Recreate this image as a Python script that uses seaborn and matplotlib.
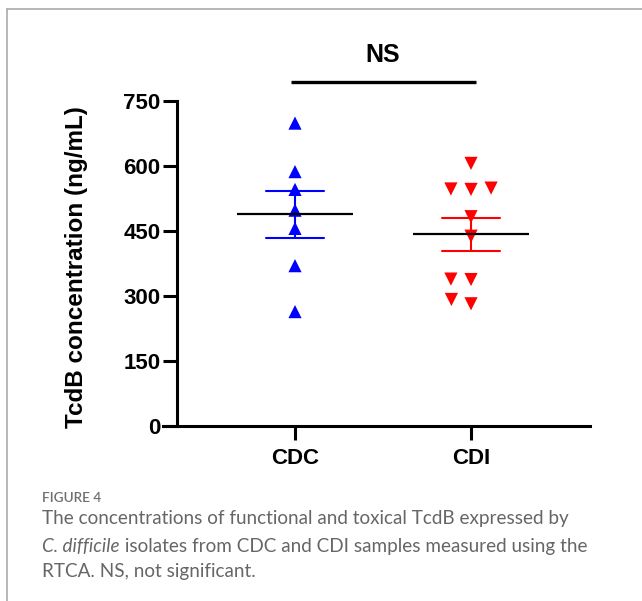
import pandas as pd
import matplotlib.pyplot as plt
from matplotlib.lines import Line2D
import seaborn as sns

# Data
groups = ['CDC', 'CDI']
cdc_values = [699, 587, 546, 498, 456, 370, 264]
cdi_values = [606, 547, 549, 546, 483, 438, 338, 339, 282, 292]
y_ticks = [0, 150, 300, 450, 600, 750]
group_colors = {'CDC': '#0000ff', 'CDI': '#ff0000'}
group_markers = {'CDC': '^', 'CDI': 'v'}
# invisible edge only used to widen the swarm spacing
group_spacing = {'CDC': 0, 'CDI': 4.3}

df = pd.DataFrame({
    'group': ['CDC'] * len(cdc_values) + ['CDI'] * len(cdi_values),
    'value': cdc_values + cdi_values,
})

sns.set_theme(style='ticks')
plt.rcParams['font.family'] = ['Liberation Sans', 'DejaVu Sans']

fig = plt.figure(figsize=(6.42, 6.01), dpi=100)
ax = fig.add_axes([163 / 642, 175 / 601, 427 / 642, 325 / 601])

# individual points
for g in groups:
    sns.swarmplot(data=df[df.group == g], x='group', y='value', order=groups,
                  marker=group_markers[g], color=group_colors[g], size=9.5,
                  linewidth=group_spacing[g], edgecolor='none', ax=ax)

# SEM error bars
sns.pointplot(data=df, x='group', y='value', order=groups, hue='group',
              palette=group_colors, errorbar='se', capsize=0.33, marker='',
              linestyle='none', err_kws={'linewidth': 1.5}, legend=False, ax=ax)

# mean line
sns.pointplot(data=df, x='group', y='value', order=groups, errorbar=None,
              color='black', marker='_', markersize=84, markeredgewidth=1.6,
              linestyle='none', ax=ax)
ax.lines[-1].set_zorder(4)

# axes
ax.set_xlim(-0.75, 1.676)
ax.set_ylim(0, 750)
ax.set_yticks(y_ticks)
ax.spines[['top', 'right']].set_visible(False)
ax.spines['left'].set_position(('axes', 14 / 427))
for s in ['left', 'bottom']:
    ax.spines[s].set_linewidth(2.2)
    ax.spines[s].set_color('black')
ax.tick_params(axis='both', width=2.2, length=10, labelsize=16,
               color='black', labelcolor='black')
ax.tick_params(axis='y', pad=2)
ax.tick_params(axis='x', pad=6)
for lab in ax.get_xticklabels() + ax.get_yticklabels():
    lab.set_fontweight('bold')
ax.set_xlabel('')
ax.set_ylabel('TcdB concentration (ng/mL)', fontsize=17.5, fontweight='bold',
              color='black')
ax.yaxis.set_label_coords(-0.176, 0.49)

# significance bar
ax.plot([-0.02, 1.03], [795, 795], color='black', lw=2.4, clip_on=False,
        solid_capstyle='butt')
ax.text(0.5, 857, 'NS', ha='center', va='center', fontsize=18,
        fontweight='bold', color='black', clip_on=False)

# caption
grey = '#666666'
cap_size = 13.6
fig.text(42 / 642, 1 - 501.7 / 601, 'FIGURE 4', fontsize=9.8, color='#707070',
         family='Lato', weight='semibold', va='baseline')
fig.text(42 / 642, 1 - 524.3 / 601,
         'The concentrations of functional and toxical TcdB expressed by',
         fontsize=cap_size, color=grey, family='Lato', va='baseline')
t1 = fig.text(42 / 642, 1 - 551.7 / 601, 'C. difficile', fontsize=cap_size,
              color=grey, family='Lato', style='italic', va='baseline')
ax.annotate(' isolates from CDC and CDI samples measured using the',
            xy=(1, 0), xycoords=t1, va='bottom', ha='left', fontsize=cap_size,
            color=grey, family='Lato', annotation_clip=False)
fig.text(42 / 642, 1 - 576.7 / 601, 'RTCA. NS, not significant.',
         fontsize=cap_size, color=grey, family='Lato', va='baseline')

# panel border
fig.add_artist(Line2D([7 / 642, 7 / 642], [0, 1 - 9 / 601],
                      transform=fig.transFigure, color='#aaaaaa', lw=1.2))
fig.add_artist(Line2D([7 / 642, 1], [1 - 9 / 601, 1 - 9 / 601],
                      transform=fig.transFigure, color='#aaaaaa', lw=1.2))

fig.savefig('out.png', dpi=100)
